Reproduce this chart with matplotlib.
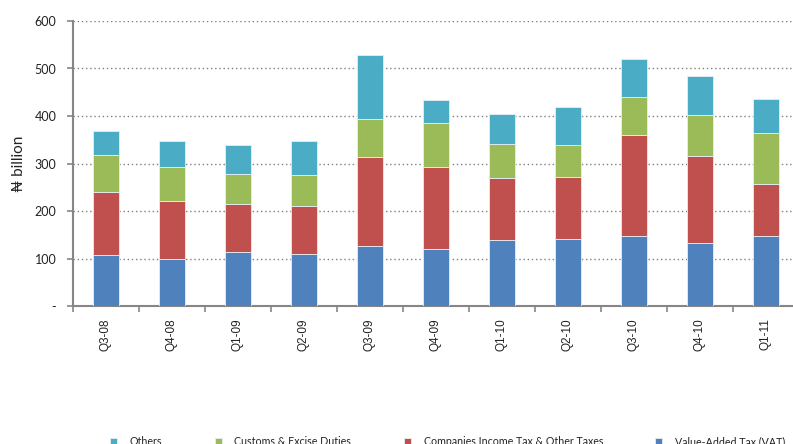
import numpy as np
import matplotlib
matplotlib.use("Agg")
from matplotlib import pyplot as plt

# Quarterly revenue by tax type, N billion
quarters = ["Q3-08", "Q4-08", "Q1-09", "Q2-09", "Q3-09", "Q4-09",
            "Q1-10", "Q2-10", "Q3-10", "Q4-10", "Q1-11"]
vat = [107, 100, 113, 109, 126, 119, 139, 142, 147, 133, 147]
cit_other = [134, 121, 101, 101, 188, 174, 131, 130, 212, 182, 109]
customs = [77, 71, 63, 66, 80, 93, 72, 68, 82, 88, 108]
others = [51, 55, 61, 71, 135, 48, 62, 79, 80, 81, 72]

series = [
    ("Value-Added Tax (VAT)", vat, "#4F81BD"),
    ("Companies Income Tax & Other Taxes", cit_other, "#C0504D"),
    ("Customs & Excise Duties", customs, "#9BBB59"),
    ("Others", others, "#4BACC6"),
]

W, H = 793, 444
fig = plt.figure(figsize=(W / 100, H / 100), dpi=100)
ax = fig.add_axes([73 / W, (H - 306) / H, (799 - 73) / W, 285 / H])

x = np.arange(len(quarters))
bottom = np.zeros(len(quarters))
handles = {}
for name, vals, col in series:
    b = ax.bar(x, vals, width=0.39, bottom=bottom, color=col,
               edgecolor="#e6eef5", linewidth=0.6, label=name, zorder=3)
    handles[name] = b
    bottom += np.array(vals)

ax.set_xlim(-0.5, len(quarters) - 0.5)
ax.set_ylim(0, 600)
ax.set_yticks(range(0, 601, 100))
ax.set_yticklabels(["-"] + [str(v) for v in range(100, 601, 100)],
                   family="Lato", fontsize=9, color="#222222")
ax.yaxis.grid(True, color="#7f7f7f", linestyle=(0, (1, 2)), linewidth=1, zorder=0)

ax.set_xticks(x)
ax.set_xticklabels(quarters, rotation=90, family="Liberation Sans",
                   fontsize=8.5, color="#222222")
ax.set_xticks(np.arange(-0.5, len(quarters)), minor=True)
ax.tick_params(axis="x", which="major", length=0, pad=9)
ax.tick_params(axis="x", which="minor", length=4, width=1.2, color="#868686",
               direction="out")
ax.tick_params(axis="y", length=4, width=1.2, color="#868686", pad=8)

for s in ["top", "right"]:
    ax.spines[s].set_visible(False)
for s in ["left", "bottom"]:
    ax.spines[s].set_color("#868686")
    ax.spines[s].set_linewidth(1.5)

ax.set_ylabel("₦ billion", family=["Lato", "DejaVu Sans"], fontsize=11,
              color="#222222")
ax.yaxis.set_label_coords(-0.065, 0.5)

# legend sits at the very bottom, clipped like the original export
order = ["Others", "Customs & Excise Duties",
         "Companies Income Tax & Other Taxes", "Value-Added Tax (VAT)"]
leg = fig.legend([handles[n] for n in order], order, ncol=4,
                 loc="center left", bbox_to_anchor=(110 / W, 1 - 441.5 / H),
                 frameon=False, prop={"family": "Lato", "size": 7.7},
                 handlelength=0.65, handleheight=0.65, handletextpad=1.2,
                 columnspacing=4.9, borderaxespad=0, borderpad=0)
for t in leg.get_texts():
    t.set_color("#222222")

fig.savefig("out.png", dpi=100)
